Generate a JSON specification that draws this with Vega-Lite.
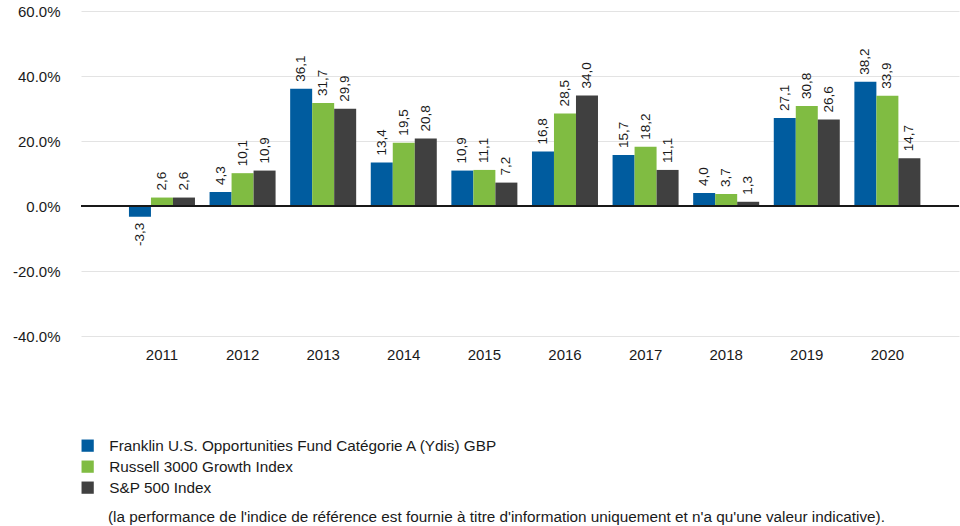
{
  "$schema": "https://vega.github.io/schema/vega-lite/v6.json",
  "width": 878,
  "height": 325,
  "autosize": {"type": "none"},
  "padding": {"left": 81, "top": 11, "right": 1, "bottom": 190},
  "background": "white",
  "config": {
    "view": {"stroke": null},
    "font": "Liberation Sans",
    "axis": {"labelFont": "Liberation Sans", "labelColor": "#1a1a1a"},
    "legend": {"labelFont": "Liberation Sans"}
  },
  "title": {
    "text": "(la performance de l'indice de référence est fournie à titre d'information uniquement et n'a qu'une valeur indicative).",
    "orient": "bottom",
    "anchor": "start",
    "frame": "group",
    "font": "Liberation Sans",
    "fontSize": 15.3,
    "fontWeight": "normal",
    "color": "#1a1a1a",
    "offset": 14,
    "dx": 27
  },
  "data": {
    "values": [
      {"year": "2011", "series": "Franklin U.S. Opportunities Fund Catégorie A (Ydis) GBP", "value": -3.3},
      {"year": "2011", "series": "Russell 3000 Growth Index", "value": 2.6},
      {"year": "2011", "series": "S&P 500 Index", "value": 2.6},
      {"year": "2012", "series": "Franklin U.S. Opportunities Fund Catégorie A (Ydis) GBP", "value": 4.3},
      {"year": "2012", "series": "Russell 3000 Growth Index", "value": 10.1},
      {"year": "2012", "series": "S&P 500 Index", "value": 10.9},
      {"year": "2013", "series": "Franklin U.S. Opportunities Fund Catégorie A (Ydis) GBP", "value": 36.1},
      {"year": "2013", "series": "Russell 3000 Growth Index", "value": 31.7},
      {"year": "2013", "series": "S&P 500 Index", "value": 29.9},
      {"year": "2014", "series": "Franklin U.S. Opportunities Fund Catégorie A (Ydis) GBP", "value": 13.4},
      {"year": "2014", "series": "Russell 3000 Growth Index", "value": 19.5},
      {"year": "2014", "series": "S&P 500 Index", "value": 20.8},
      {"year": "2015", "series": "Franklin U.S. Opportunities Fund Catégorie A (Ydis) GBP", "value": 10.9},
      {"year": "2015", "series": "Russell 3000 Growth Index", "value": 11.1},
      {"year": "2015", "series": "S&P 500 Index", "value": 7.2},
      {"year": "2016", "series": "Franklin U.S. Opportunities Fund Catégorie A (Ydis) GBP", "value": 16.8},
      {"year": "2016", "series": "Russell 3000 Growth Index", "value": 28.5},
      {"year": "2016", "series": "S&P 500 Index", "value": 34.0},
      {"year": "2017", "series": "Franklin U.S. Opportunities Fund Catégorie A (Ydis) GBP", "value": 15.7},
      {"year": "2017", "series": "Russell 3000 Growth Index", "value": 18.2},
      {"year": "2017", "series": "S&P 500 Index", "value": 11.1},
      {"year": "2018", "series": "Franklin U.S. Opportunities Fund Catégorie A (Ydis) GBP", "value": 4.0},
      {"year": "2018", "series": "Russell 3000 Growth Index", "value": 3.7},
      {"year": "2018", "series": "S&P 500 Index", "value": 1.3},
      {"year": "2019", "series": "Franklin U.S. Opportunities Fund Catégorie A (Ydis) GBP", "value": 27.1},
      {"year": "2019", "series": "Russell 3000 Growth Index", "value": 30.8},
      {"year": "2019", "series": "S&P 500 Index", "value": 26.6},
      {"year": "2020", "series": "Franklin U.S. Opportunities Fund Catégorie A (Ydis) GBP", "value": 38.2},
      {"year": "2020", "series": "Russell 3000 Growth Index", "value": 33.9},
      {"year": "2020", "series": "S&P 500 Index", "value": 14.7}
    ]
  },
  "transform": [
    {"calculate": "replace(replace(format(datum.value, '.1f'), '.', ','), '\u2212', '-')", "as": "label"}
  ],
  "encoding": {
    "x": {
      "field": "year",
      "type": "nominal",
      "title": null,
      "scale": {"paddingInner": 0.181, "paddingOuter": 0.537, "align": 0.554},
      "axis": {
        "labelAngle": 0,
        "labelFontSize": 15,
        "ticks": false,
        "domain": false,
        "labelPadding": 11,
        "grid": false
      }
    },
    "xOffset": {
      "field": "series",
      "sort": ["Franklin U.S. Opportunities Fund Catégorie A (Ydis) GBP", "Russell 3000 Growth Index", "S&P 500 Index"],
      "scale": {"paddingInner": 0, "paddingOuter": 0}
    },
    "y": {
      "field": "value",
      "type": "quantitative",
      "title": null,
      "scale": {"domain": [-40, 60], "nice": false, "zero": false},
      "axis": {
        "values": [-40, -20, 0, 20, 40, 60],
        "labelExpr": "replace(format(datum.value, '.1f'), '\u2212', '-') + '%'",
        "labelFontSize": 15,
        "ticks": false,
        "domain": false,
        "labelPadding": 21,
        "gridColor": "#e3e3e3",
        "gridWidth": 1.2
      }
    }
  },
  "layer": [
    {
      "mark": {"type": "bar"},
      "encoding": {
        "color": {
          "field": "series",
          "type": "nominal",
          "scale": {
            "domain": ["Franklin U.S. Opportunities Fund Catégorie A (Ydis) GBP", "Russell 3000 Growth Index", "S&P 500 Index"],
            "range": ["#005C9F", "#80BC42", "#404040"]
          },
          "legend": {
            "title": null,
            "orient": "none",
            "legendX": -1,
            "legendY": 427,
            "direction": "vertical",
            "symbolType": "square",
            "symbolSize": 150,
            "symbolStrokeWidth": 0,
            "labelFontSize": 15.3,
            "labelColor": "#1a1a1a",
            "labelOffset": 14,
            "rowPadding": 5,
            "labelLimit": 600
          }
        }
      }
    },
    {
      "transform": [{"filter": "datum.value >= 0"}],
      "mark": {"type": "text", "angle": 270, "align": "left", "baseline": "middle", "dx": 7, "fontSize": 13.5, "color": "#1a1a1a"},
      "encoding": {"text": {"field": "label"}}
    },
    {
      "transform": [{"filter": "datum.value < 0"}],
      "mark": {"type": "text", "angle": 270, "align": "right", "baseline": "middle", "dx": -6, "fontSize": 13.5, "color": "#1a1a1a"},
      "encoding": {"text": {"field": "label"}}
    },
    {
      "mark": {"type": "rule", "color": "#1a1a1a", "strokeWidth": 1.3},
      "encoding": {"y": {"datum": 0}, "x": {"value": 0}, "x2": {"value": 878}, "xOffset": null}
    }
  ]
}
